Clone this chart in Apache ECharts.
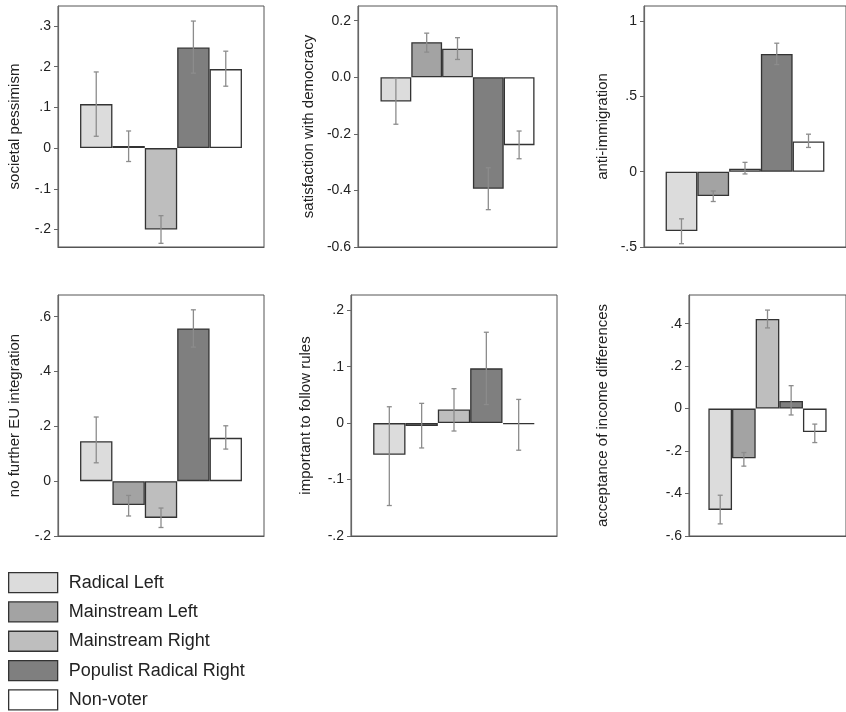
<!DOCTYPE html>
<html>
<head>
<meta charset="utf-8">
<script src="https://cdn.jsdelivr.net/npm/echarts@6/dist/echarts.min.js"></script>
<style>
  html, body { margin: 0; padding: 0; background: #fff; }
  #chart { width: 846px; height: 712px; }
</style>
</head>
<body>
<div id="chart"></div>
<script>
// groups (one bar each, same order in every panel)
const groups = ['Radical Left', 'Mainstream Left', 'Mainstream Right', 'Populist Radical Right', 'Non-voter']
const groupColors = ['#dcdcdc', '#a3a3a3', '#bebebe', '#7f7f7f', '#ffffff']

const titles = [
  'societal pessimism',
  'satisfaction with democracy',
  'anti-immigration',
  'no further EU integration',
  'important to follow rules',
  'acceptance of income differences'
]

// means per panel
const means1 = [0.108, 0.005, -0.200, 0.247, 0.194]
const means2 = [-0.086, 0.124, 0.101, -0.394, -0.240]
const means3 = [-0.394, -0.161, 0.020, 0.782, 0.200]
const means4 = [0.146, -0.087, -0.134, 0.557, 0.158]
const means5 = [-0.056, -0.005, 0.024, 0.097, -0.002]
const means6 = [-0.477, -0.234, 0.422, 0.036, -0.110]

// confidence interval lower / upper ends
const low1 = [0.029, -0.033, -0.234, 0.184, 0.152]
const high1 = [0.187, 0.042, -0.166, 0.312, 0.238]
const low2 = [-0.166, 0.089, 0.063, -0.468, -0.288]
const high2 = [-0.004, 0.156, 0.140, -0.320, -0.190]
const low3 = [-0.478, -0.198, -0.015, 0.711, 0.161]
const high3 = [-0.313, -0.128, 0.062, 0.853, 0.249]
const low4 = [0.067, -0.127, -0.169, 0.489, 0.117]
const high4 = [0.234, -0.052, -0.098, 0.625, 0.202]
const low5 = [-0.146, -0.044, -0.014, 0.033, -0.048]
const high5 = [0.029, 0.035, 0.061, 0.161, 0.042]
const low6 = [-0.543, -0.271, 0.380, -0.030, -0.160]
const high6 = [-0.408, -0.207, 0.464, 0.108, -0.073]

// y tick values and their labels
const ticks1 = [-0.2, -0.1, 0, 0.1, 0.2, 0.3]
const tickLabels1 = ['-.2', '-.1', '0', '.1', '.2', '.3']
const ticks2 = [-0.6, -0.4, -0.2, 0, 0.2]
const tickLabels2 = ['-0.6', '-0.4', '-0.2', '0.0', '0.2']
const ticks3 = [-0.5, 0, 0.5, 1]
const tickLabels3 = ['-.5', '0', '.5', '1']
const ticks4 = [-0.2, 0, 0.2, 0.4, 0.6]
const tickLabels4 = ['-.2', '0', '.2', '.4', '.6']
const ticks5 = [-0.2, -0.1, 0, 0.1, 0.2]
const tickLabels5 = ['-.2', '-.1', '0', '.1', '.2']
const ticks6 = [-0.6, -0.4, -0.2, 0, 0.2, 0.4]
const tickLabels6 = ['-.6', '-.4', '-.2', '0', '.2', '.4']

// y axis ranges
const yMin = [-0.243, -0.6, -0.5, -0.2, -0.2, -0.6]
const yMax = [0.349, 0.252, 1.10, 0.679, 0.227, 0.535]

const panels = [
  { means: means1, low: low1, high: high1, ticks: ticks1, labels: tickLabels1 },
  { means: means2, low: low2, high: high2, ticks: ticks2, labels: tickLabels2 },
  { means: means3, low: low3, high: high3, ticks: ticks3, labels: tickLabels3 },
  { means: means4, low: low4, high: high4, ticks: ticks4, labels: tickLabels4 },
  { means: means5, low: low5, high: high5, ticks: ticks5, labels: tickLabels5 },
  { means: means6, low: low6, high: high6, ticks: ticks6, labels: tickLabels6 }
]

// layout of each panel box (px) and gap around the bar block
const layout = [
  { left: 58, top: 6, width: 206, gap: 0.214, nameGap: 36 },
  { left: 358, top: 6, width: 199, gap: 0.226, nameGap: 42 },
  { left: 644, top: 6, width: 206, gap: 0.214, nameGap: 34 },
  { left: 58, top: 295, width: 206, gap: 0.214, nameGap: 36 },
  { left: 351, top: 295, width: 206, gap: 0.215, nameGap: 38 },
  { left: 689, top: 295, width: 162, gap: 0.247, nameGap: 79 }
]
const boxHeight = 241

const FONT = '"Liberation Sans", Arial, sans-serif'
const chart = echarts.init(document.getElementById('chart'))

const grid = [], xAxis = [], yAxis = [], series = []

panels.forEach((p, k) => {
  const L = layout[k]
  grid.push({
    left: L.left, top: L.top, width: L.width, height: boxHeight,
    show: true, borderColor: '#555', borderWidth: 1, backgroundColor: 'transparent'
  })
  xAxis.push({
    type: 'category', gridIndex: k, data: ['all'],
    axisLine: { show: true, onZero: false, lineStyle: { color: '#555', width: 1.2 } },
    axisTick: { show: false }, axisLabel: { show: false }, splitLine: { show: false }
  })
  yAxis.push({
    type: 'value', gridIndex: k, min: yMin[k], max: yMax[k],
    name: titles[k], nameLocation: 'middle', nameGap: L.nameGap, nameRotate: 90,
    nameTextStyle: { fontFamily: FONT, fontSize: 15, color: '#222' },
    axisLine: { show: true, lineStyle: { color: '#666', width: 1.2 } },
    axisTick: { show: true, length: 4, customValues: p.ticks, lineStyle: { color: '#666' } },
    axisLabel: {
      customValues: p.ticks, margin: 7, fontFamily: FONT, fontSize: 14, color: '#222',
      formatter: v => {
        const i = p.ticks.findIndex(t => Math.abs(t - v) < 1e-9)
        return i >= 0 ? p.labels[i] : ''
      }
    },
    splitLine: { show: false }
  })
  groups.forEach((g, i) => {
    series.push({
      name: g, type: 'bar', xAxisIndex: k, yAxisIndex: k,
      data: [p.means[i]],
      barGap: 0, barCategoryGap: (L.gap * 100) + '%',
      itemStyle: { color: groupColors[i], borderColor: '#333', borderWidth: 1.3 },
      emphasis: { disabled: true },
      z: 2
    })
  })
  // error bars, drawn over the bars
  series.push({
    type: 'custom', xAxisIndex: k, yAxisIndex: k, clip: true, z: 5,
    data: groups.map((g, i) => [i, p.low[i], p.high[i]]),
    renderItem: (params, api) => {
      const s = api.value(0)
      const bottom = api.coord([0, api.value(1)])
      const top = api.coord([0, api.value(2)])
      const bandW = api.size([1, 0])[0]
      const barW = bandW * (1 - L.gap) / 5
      const x = bottom[0] + (s - 2) * barW
      const cap = 2.5
      const style = { stroke: '#8c8c8c', lineWidth: 1.3 }
      return {
        type: 'group',
        children: [
          { type: 'line', shape: { x1: x, y1: top[1], x2: x, y2: bottom[1] }, style },
          { type: 'line', shape: { x1: x - cap, y1: top[1], x2: x + cap, y2: top[1] }, style },
          { type: 'line', shape: { x1: x - cap, y1: bottom[1], x2: x + cap, y2: bottom[1] }, style }
        ]
      }
    }
  })
})

chart.setOption({
  animation: false,
  backgroundColor: '#fff',
  textStyle: { fontFamily: FONT },
  legend: {
    data: groups, orient: 'vertical', left: 8, top: 572, height: 140, padding: 0,
    icon: 'rect', itemWidth: 49, itemHeight: 20, itemGap: 8, selectedMode: false,
    itemStyle: { borderColor: '#333', borderWidth: 1.3 },
    textStyle: { fontFamily: FONT, fontSize: 18, lineHeight: 20, color: '#222', padding: [0, 0, 0, 6] }
  },
  grid, xAxis, yAxis, series
})
</script>
</body>
</html>
